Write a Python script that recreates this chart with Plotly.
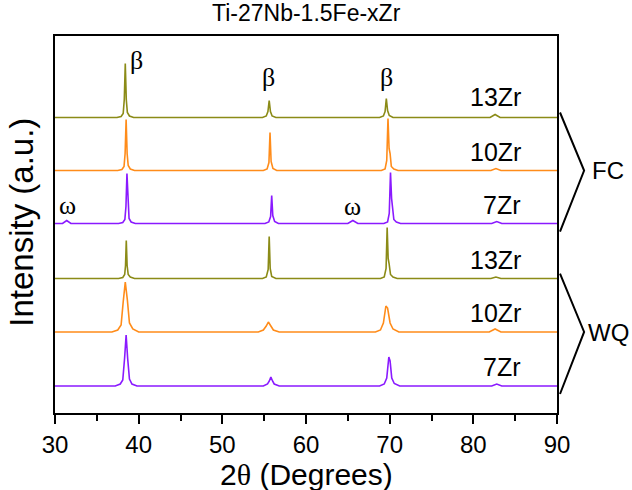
import plotly.graph_objects as go

# ---------------- data ----------------
title_text = "Ti-27Nb-1.5Fe-xZr"
x_ticks = [30, 40, 50, 60, 70, 80, 90]

sample_labels = ["13Zr", "10Zr", "7Zr", "13Zr", "10Zr", "7Zr"]
sample_colors = ["#8b8b17", "#ff8c1a", "#8a1aff", "#8b8b17", "#ff8c1a", "#8a1aff"]
offsets = [295.5, 242.5, 189.5, 134.5, 81.0, 27.0]

fc13_x = [30, 37.4, 37.9, 38.15, 38.28, 38.4, 38.52, 38.65, 38.9, 39.4, 54.8, 55.25, 55.45, 55.6, 55.75, 55.95, 56.4,
          68.8, 69.25, 69.45, 69.6, 69.75, 69.95, 70.4, 82.0, 82.6, 83.2, 90]
fc13_y = [0, 0, 1, 4, 18, 54, 18, 5, 1.5, 0, 0, 1.5, 6, 17, 6, 1.5, 0,
          0, 1.5, 6, 19, 7, 2, 0, 0, 3, 0, 0]

fc10_x = [30, 37.5, 38.0, 38.25, 38.38, 38.5, 38.62, 38.75, 39.0, 39.5, 54.9, 55.35, 55.57, 55.7, 55.83, 56.05, 56.5,
          69.0, 69.45, 69.65, 69.8, 69.93, 70.05, 70.2, 70.5, 71.0, 82.1, 82.7, 83.3, 90]
fc10_y = [0, 0, 1, 4, 17, 51, 17, 5, 1.5, 0, 0, 1.5, 8, 38, 9, 2, 0,
          0, 1.5, 10, 52, 22, 17, 4, 1.5, 0, 0, 2, 0, 0]

fc7_x = [30, 30.9, 31.4, 31.9, 37.6, 38.1, 38.35, 38.48, 38.6, 38.72, 38.85, 39.1, 39.6, 55.1, 55.55, 55.77, 55.9,
         56.03, 56.25, 56.7, 65.0, 65.6, 66.2, 69.3, 69.75, 69.95, 70.1, 70.23, 70.35, 70.5, 70.8, 71.3,
         82.2, 82.8, 83.4, 90]
fc7_y = [0, 0, 3, 0, 0, 1, 4, 17, 50, 18, 5, 1.5, 0, 0, 1.5, 7, 28,
         8, 2, 0, 0, 3, 0, 0, 1.5, 10, 51, 25, 15, 4, 1.5, 0,
         0, 2, 0, 0]

wq13_x = [30, 37.6, 38.1, 38.33, 38.43, 38.52, 38.62, 38.75, 39.0, 39.5, 54.8, 55.25, 55.48, 55.6, 55.72, 55.9, 56.4,
          68.9, 69.35, 69.57, 69.7, 69.82, 69.93, 70.1, 70.4, 70.9, 82.1, 82.7, 83.3, 90]
wq13_y = [0, 0, 1, 4, 13, 38, 13, 4, 1.5, 0, 0, 1.5, 9, 42, 10, 2, 0,
          0, 1.5, 10, 51, 20, 15, 4, 1.5, 0, 0, 1.5, 0, 0]

wq10_x = [30, 36.8, 37.5, 37.9, 38.15, 38.4, 38.65, 38.9, 39.3, 40.0, 54.3, 54.9, 55.25, 55.5, 55.8, 56.1, 56.8,
          68.3, 68.9, 69.25, 69.55, 69.75, 70.05, 70.4, 71.1, 81.9, 82.6, 83.3, 90]
wq10_y = [0, 0, 2, 7, 30, 50, 32, 9, 3, 0, 0, 2, 6, 10, 6, 2, 0,
          0, 2, 9, 26, 24, 9, 3, 0, 0, 3, 0, 0]

wq7_x = [30, 37.2, 37.8, 38.1, 38.32, 38.5, 38.68, 38.9, 39.2, 39.8, 54.9, 55.4, 55.62, 55.8, 56.0, 56.2, 56.8,
         68.8, 69.35, 69.65, 69.9, 70.05, 70.25, 70.55, 71.2, 82.2, 82.8, 83.4, 90]
wq7_y = [0, 0, 2, 6, 28, 51, 28, 7, 2, 0, 0, 2, 5, 9, 5, 2, 0,
         0, 2, 8, 29, 25, 8, 2.5, 0, 0, 2, 0, 0]

curves_x = [fc13_x, fc10_x, fc7_x, wq13_x, wq10_x, wq7_x]
curves_y = [fc13_y, fc10_y, fc7_y, wq13_y, wq10_y, wq7_y]

beta_x = [39.8, 55.5, 69.6]
beta_y = [353, 336, 336]
omega_x = [31.5, 65.6]
omega_y = [208, 207]

group_labels = ["FC", "WQ"]

Y_RANGE = [0, 377]
SANS = "Liberation Sans, Arial, sans-serif"
SERIF = "Liberation Serif, Times New Roman, serif"

fig = go.Figure()
for cx, cy, off, col in zip(curves_x, curves_y, offsets, sample_colors):
    fig.add_trace(go.Scatter(x=cx, y=[v + off for v in cy], mode="lines",
                             line=dict(color=col, width=1.6), showlegend=False, hoverinfo="skip"))

ann = []
# sample labels
for i, (lab, off) in enumerate(zip(sample_labels, offsets)):
    ann.append(dict(x=85.9, y=off + (21 if i == 0 else 19), xref="x", yref="y", text=lab,
                    showarrow=False, xanchor="right", yanchor="middle",
                    font=dict(family=SANS, size=25, color="black")))
for bx, by in zip(beta_x, beta_y):
    ann.append(dict(x=bx, y=by, xref="x", yref="y", text="β", showarrow=False,
                    xanchor="center", yanchor="middle", font=dict(family=SERIF, size=26, color="black")))
for ox, oy in zip(omega_x, omega_y):
    ann.append(dict(x=ox, y=oy, xref="x", yref="y", text="ω", showarrow=False,
                    xanchor="center", yanchor="middle", font=dict(family=SERIF, size=26, color="black")))


def ypaper(v):
    return (v - Y_RANGE[0]) / (Y_RANGE[1] - Y_RANGE[0])


# brackets
groups = [(offsets[0], offsets[1], offsets[2]), (offsets[3], offsets[4], offsets[5])]
shapes = []
for (top, mid, bot), glab, tx in zip(groups, group_labels, [1.066, 1.058]):
    path = "M 1.006 {:.4f} L 1.054 {:.4f} L 1.006 {:.4f}".format(ypaper(top + 5), ypaper(mid), ypaper(bot - 8))
    shapes.append(dict(type="path", xref="paper", yref="paper", path=path,
                       line=dict(color="black", width=2)))
    ann.append(dict(x=tx, y=mid, xref="paper", yref="y", text=glab, showarrow=False,
                    xanchor="left", yanchor="middle", font=dict(family=SANS, size=24, color="black")))

# titles
ann.append(dict(x=0.5, y=1.06, xref="paper", yref="paper", text=title_text, showarrow=False,
                xanchor="center", yanchor="middle", font=dict(family=SANS, size=23, color="black")))
ann.append(dict(x=0.5, y=-0.162, xref="paper", yref="paper",
                text='2<span style="font-family:Liberation Serif">θ</span> (Degrees)', showarrow=False,
                xanchor="center", yanchor="middle", font=dict(family=SANS, size=30, color="black")))
ann.append(dict(x=-0.066, y=0.507, xref="paper", yref="paper", text="Intensity (a.u.)", showarrow=False,
                textangle=-90, xanchor="center", yanchor="middle",
                font=dict(family=SANS, size=33, color="black")))

fig.update_layout(
    width=632, height=490,
    margin=dict(l=55, r=75, t=36, b=77),
    paper_bgcolor="white", plot_bgcolor="white",
    annotations=ann, shapes=shapes,
    xaxis=dict(range=[30, 90], tickvals=x_ticks, ticks="outside", ticklen=9, tickwidth=1.5,
               tickcolor="black", showline=True, linecolor="black", linewidth=1.5, mirror=True,
               showgrid=False, zeroline=False, tickfont=dict(family=SANS, size=24, color="black"),
               minor=dict(dtick=5, ticks="outside", ticklen=6, tickwidth=1.5, tickcolor="black", showgrid=False)),
    yaxis=dict(range=Y_RANGE, showticklabels=False, ticks="", showline=True, linecolor="black",
               linewidth=1.5, mirror=True, showgrid=False, zeroline=False),
)

fig.write_html("out.html", post_script="document.body.style.margin='0';",
               config={"displayModeBar": False})
